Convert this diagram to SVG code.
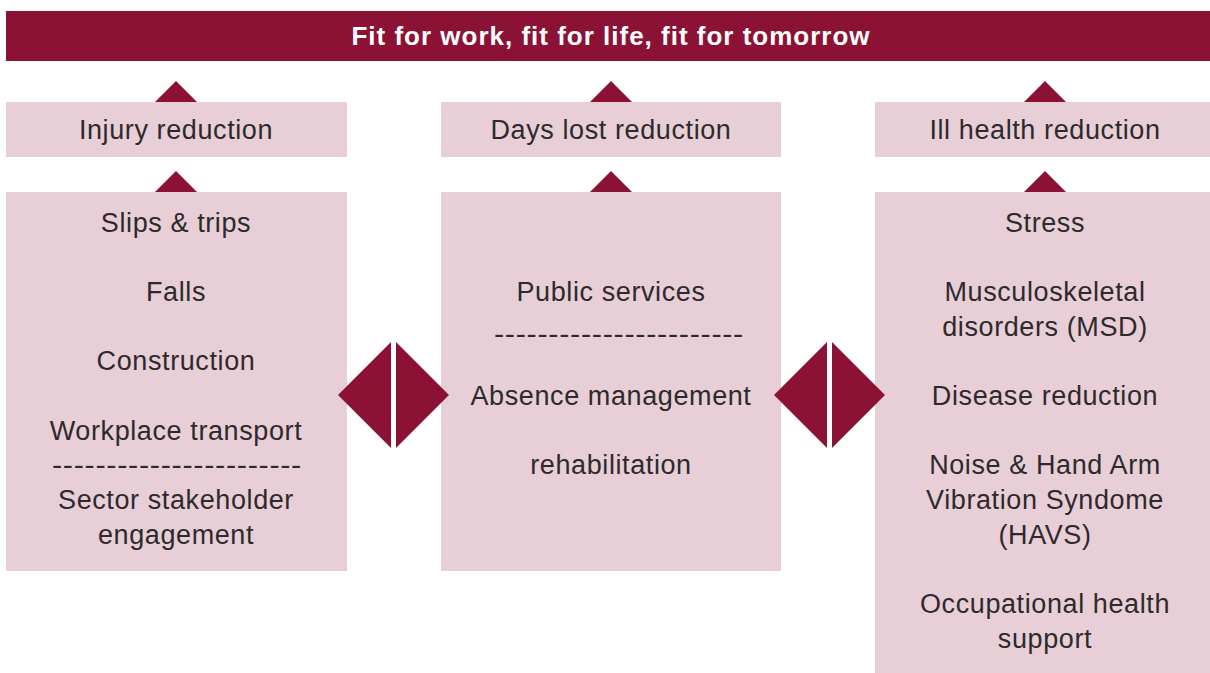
<svg xmlns="http://www.w3.org/2000/svg" width="1210" height="673" viewBox="0 0 1210 673">
<style>
.box{fill:#e8ced7}
.mk{fill:#8c1235}
.t{font-family:"Liberation Sans",Arial,sans-serif;font-size:27px;letter-spacing:0.6px;fill:#2e2a2b;text-anchor:middle}
.title{font-family:"Liberation Sans",Arial,sans-serif;font-size:26px;letter-spacing:1px;font-weight:bold;fill:#ffffff;text-anchor:middle}
</style>
<rect width="1210" height="673" fill="#ffffff"/>
<g id="banner">
<rect class="mk" x="6" y="11" width="1204" height="50"/>
<text class="title" x="611" y="45">Fit for work, fit for life, fit for tomorrow</text>
</g>
<g id="injury-reduction">
<rect class="box" x="6" y="102" width="341" height="55"/>
<text class="t" x="176" y="139">Injury reduction</text>
</g>
<g id="days-lost-reduction">
<rect class="box" x="441" y="102" width="340" height="55"/>
<text class="t" x="611" y="139">Days lost reduction</text>
</g>
<g id="ill-health-reduction">
<rect class="box" x="875" y="102" width="335" height="55"/>
<text class="t" x="1045" y="139">Ill health reduction</text>
</g>
<g id="injury-topics">
<rect class="box" x="6" y="192" width="341" height="379"/>
<text class="t" x="176" y="232">Slips &amp; trips</text>
<text class="t" x="176" y="301">Falls</text>
<text class="t" x="176" y="370">Construction</text>
<text class="t" x="176" y="440">Workplace transport</text>
<text class="t" x="177" y="474" textLength="250" lengthAdjust="spacingAndGlyphs">-----------------------</text>
<text class="t" x="176" y="509">Sector stakeholder</text>
<text class="t" x="176" y="544">engagement</text>
</g>
<g id="days-lost-topics">
<rect class="box" x="441" y="192" width="340" height="379"/>
<text class="t" x="611" y="301">Public services</text>
<text class="t" x="619" y="343" textLength="250" lengthAdjust="spacingAndGlyphs">-----------------------</text>
<text class="t" x="611" y="405">Absence management</text>
<text class="t" x="611" y="474">rehabilitation</text>
</g>
<g id="ill-health-topics">
<rect class="box" x="875" y="192" width="335" height="481"/>
<text class="t" x="1045" y="232">Stress</text>
<text class="t" x="1045" y="301">Musculoskeletal</text>
<text class="t" x="1045" y="336">disorders (MSD)</text>
<text class="t" x="1045" y="405">Disease reduction</text>
<text class="t" x="1045" y="474">Noise &amp; Hand Arm</text>
<text class="t" x="1045" y="509">Vibration Syndome</text>
<text class="t" x="1045" y="544">(HAVS)</text>
<text class="t" x="1045" y="613">Occupational health</text>
<text class="t" x="1045" y="648">support</text>
</g>
<g id="connectors">
<polygon class="mk" points="155,102 176,81 197,102"/>
<polygon class="mk" points="590,102 611,81 632,102"/>
<polygon class="mk" points="1024,102 1045,81 1066,102"/>
<polygon class="mk" points="155,192 176,171 197,192"/>
<polygon class="mk" points="590,192 611,171 632,192"/>
<polygon class="mk" points="1024,192 1045,171 1066,192"/>
<polygon class="mk" points="338,395 391,342 391,448"/>
<polygon class="mk" points="396,342 449,395 396,448"/>
<polygon class="mk" points="774,395 827,342 827,448"/>
<polygon class="mk" points="832,342 885,395 832,448"/>
</g>
</svg>
